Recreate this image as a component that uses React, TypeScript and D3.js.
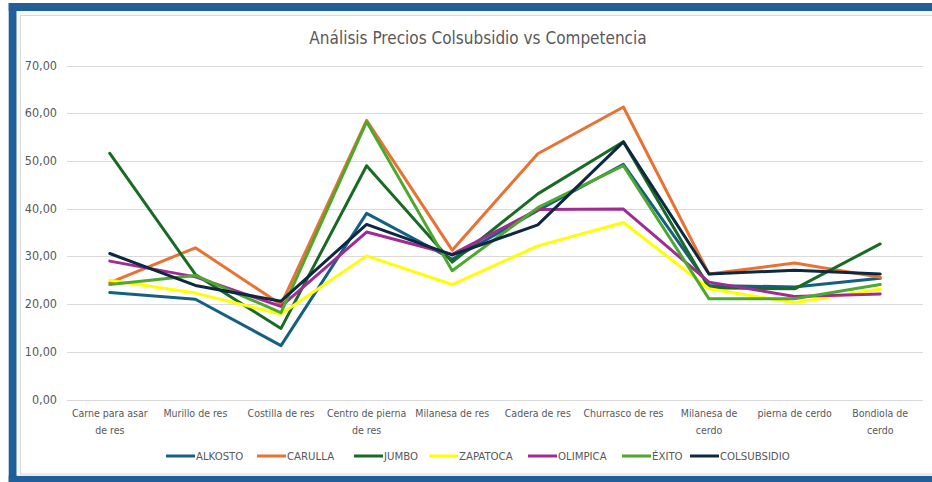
import React from "react";
import * as d3 from "d3";

const categories = [
  "Carne para asar de res",
  "Murillo de res",
  "Costilla de res",
  "Centro de pierna de res",
  "Milanesa de res",
  "Cadera de res",
  "Churrasco de res",
  "Milanesa de cerdo",
  "pierna de cerdo",
  "Bondiola de cerdo",
];
const categoryLabels = [
  ["Carne para asar", "de res"],
  ["Murillo de res"],
  ["Costilla de res"],
  ["Centro de pierna", "de res"],
  ["Milanesa de res"],
  ["Cadera de res"],
  ["Churrasco de res"],
  ["Milanesa de", "cerdo"],
  ["pierna de cerdo"],
  ["Bondiola de", "cerdo"],
];

const alkosto = [22.4, 21.0, 11.3, 39.0, 29.4, 39.6, 49.3, 23.9, 23.6, 25.4];
const carulla = [24.5, 31.8, 19.9, 58.5, 31.3, 51.5, 61.3, 26.3, 28.6, 25.6];
const jumbo = [51.6, 26.2, 14.9, 49.0, 28.8, 43.1, 54.0, 23.4, 23.2, 32.6];
const zapatoca = [25.0, 22.3, 17.9, 30.1, 24.1, 32.2, 37.1, 23.2, 20.3, 23.1];
const olimpica = [29.0, 25.7, 19.5, 35.1, 30.4, 39.8, 39.9, 24.6, 21.6, 22.1];
const exito = [24.1, 26.0, 18.2, 58.2, 27.0, 40.2, 49.0, 21.1, 21.1, 24.1];
const colsubsidio = [30.6, 23.9, 20.6, 36.7, 30.3, 36.6, 54.0, 26.3, 27.1, 26.3];

const seriesNames = ["ALKOSTO", "CARULLA", "JUMBO", "ZAPATOCA", "OLIMPICA", "ÉXITO", "COLSUBSIDIO"];
const seriesValues = [alkosto, carulla, jumbo, zapatoca, olimpica, exito, colsubsidio];
const seriesColors = ["#156082", "#E97132", "#196B24", "#FFFF00", "#A02B93", "#4EA72E", "#0E2841"];

const yTicks = [0, 10, 20, 30, 40, 50, 60, 70];

const FONT = '"Liberation Sans Narrow", "Arial Narrow", "DejaVu Sans Condensed", sans-serif';
const TEXT = "#595959";

export default function App() {
  const W = 932;
  const H = 482;
  const plotL = 67;
  const plotR = 923;
  const yTop = 65.5;
  const yBot = 399.5;

  const x = d3.scaleBand<string>().domain(categories).range([plotL, plotR]);
  const y = d3.scaleLinear().domain([0, 70]).range([yBot, yTop]);
  const cx = (c: string) => (x(c) as number) + x.bandwidth() / 2;
  const line = d3
    .line<number>()
    .x((_, i) => cx(categories[i]))
    .y((v) => y(v));

  const fmt = (v: number) => v.toFixed(2).replace(".", ",");

  const legendX = [166, 257, 354, 429, 528, 622, 690];

  return (
    <svg
      width={W}
      height={H}
      style={{ position: "absolute", left: 0, top: 0, background: "#fff" }}
      fontFamily={FONT}
    >
      {/* frame */}
      <rect x={8.7} y={3} width={W} height={8} fill="#215F9A" />
      <rect x={8.7} y={3} width={8} height={H} fill="#215F9A" />
      <rect x={8.7} y={475.7} width={W} height={7} fill="#215F9A" />
      <rect x={16.7} y={11} width={W} height={464.7} fill="#f8f8f8" />
      <rect x={20.5} y={15.5} width={W} height={458.5} fill="#fff" stroke="#d9d9d9" strokeWidth={1} />

      {/* title */}
      <text x={478} y={44} textAnchor="middle" fontSize={17} fill={TEXT}>
        Análisis Precios Colsubsidio vs Competencia
      </text>

      {/* gridlines & y labels */}
      {yTicks.map((t) => (
        <g key={t}>
          <line x1={plotL} x2={plotR} y1={Math.round(y(t)) + 0.5} y2={Math.round(y(t)) + 0.5} stroke="#d9d9d9" strokeWidth={1} />
          <text x={57} y={y(t) + 4} textAnchor="end" fontSize={12.5} fill={TEXT}>
            {fmt(t)}
          </text>
        </g>
      ))}

      {/* x labels */}
      {categories.map((c, i) => (
        <text key={c} x={cx(c)} y={417} textAnchor="middle" fontSize={10.5} fill={TEXT}>
          {categoryLabels[i].map((l, j) => (
            <tspan key={j} x={cx(c)} dy={j === 0 ? 0 : 17}>
              {l}
            </tspan>
          ))}
        </text>
      ))}

      {/* series */}
      {seriesValues.map((vals, i) => (
        <path
          key={seriesNames[i]}
          d={line(vals) as string}
          fill="none"
          stroke={seriesColors[i]}
          strokeWidth={3}
          strokeLinejoin="round"
          strokeLinecap="round"
        />
      ))}

      {/* legend */}
      {seriesNames.map((n, i) => (
        <g key={n}>
          <line x1={legendX[i]} x2={legendX[i] + 29} y1={456} y2={456} stroke={seriesColors[i]} strokeWidth={3} />
          <text x={legendX[i] + 30} y={460} fontSize={11.3} fill={TEXT}>
            {n}
          </text>
        </g>
      ))}
    </svg>
  );
}
